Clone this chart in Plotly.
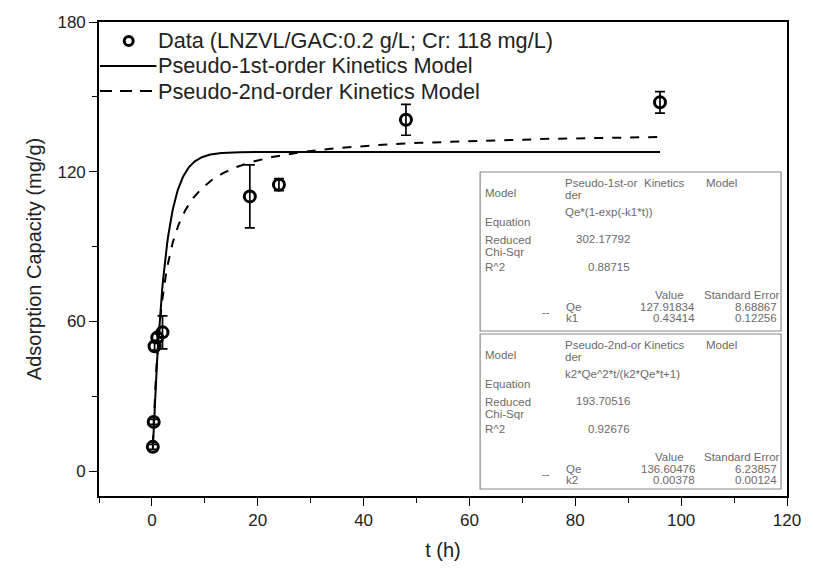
import numpy as np
import plotly.graph_objects as go

# Measured adsorption data
t_h = [1/6, 1/3, 0.5, 1, 2, 18.5, 24, 48, 96]
q_mg_g = [9.7, 19.7, 50.0, 53.5, 55.6, 110.1, 114.8, 140.8, 147.8]
q_err = [1.0, 1.0, 1.5, 1.5, 6.6, 12.6, 2.4, 6.2, 4.3]

# Fitted kinetic parameters
Qe1, k1 = 127.91834, 0.43414
Qe2, k2 = 136.60476, 0.00378

t_fit = np.linspace(t_h[0], t_h[-1], 600)
q_pfo = Qe1 * (1 - np.exp(-k1 * t_fit))
q_pso = k2 * Qe2**2 * t_fit / (1 + k2 * Qe2 * t_fit)

series_names = [
    "Data (LNZVL/GAC:0.2 g/L; Cr: 118 mg/L)",
    "Pseudo-1st-order Kinetics Model",
    "Pseudo-2nd-order Kinetics Model",
]

# Fit report tables
table1 = [
    ["Model", "Pseudo-1st-or\nder", "Kinetics", "Model"],
    ["Equation", "Qe*(1-exp(-k1*t))"],
    ["Reduced\nChi-Sqr", "302.17792"],
    ["R^2", "0.88715"],
    ["Qe", "127.91834", "8.68867"],
    ["k1", "0.43414", "0.12256"],
]
table2 = [
    ["Model", "Pseudo-2nd-or\nder", "Kinetics", "Model"],
    ["Equation", "k2*Qe^2*t/(k2*Qe*t+1)"],
    ["Reduced\nChi-Sqr", "193.70516"],
    ["R^2", "0.92676"],
    ["Qe", "136.60476", "6.23857"],
    ["k2", "0.00378", "0.00124"],
]

FONT = "Liberation Sans, Arial, sans-serif"
W, H = 813, 572
L, R, T, B = 99, 794, 22, 496


def px(x):
    return (x - L) / (R - L)


def py(y):
    return (B - y) / (B - T)


fig = go.Figure()

fig.add_trace(go.Scatter(
    x=t_h, y=q_mg_g, mode="markers", name=series_names[0],
    marker=dict(symbol="circle-open", size=11, color="black",
                line=dict(width=3, color="black")),
    error_y=dict(type="data", array=q_err, visible=True, color="black",
                 thickness=1.7, width=5),
))
fig.add_trace(go.Scatter(
    x=t_fit, y=q_pfo, mode="lines", name=series_names[1],
    line=dict(color="black", width=2),
))
fig.add_trace(go.Scatter(
    x=t_fit, y=q_pso, mode="lines", name=series_names[2],
    line=dict(color="black", width=2, dash="dash"),
))

shapes = []
annotations = []
TXT = "#6a6a6a"

# Legend: symbol samples and labels in the upper-left corner
LEG_ROWS = [41, 66, 91]
for name, yrow in zip(series_names, LEG_ROWS):
    annotations.append(dict(x=px(157), y=py(yrow), xref="paper", yref="paper",
                            text=name, showarrow=False, xanchor="left",
                            yanchor="middle",
                            font=dict(family=FONT, size=21.7, color="#222")))
shapes.append(dict(type="circle", xref="paper", yref="paper",
                   x0=px(124.5), x1=px(133.5), y0=py(LEG_ROWS[0] + 4.5),
                   y1=py(LEG_ROWS[0] - 4.5),
                   line=dict(color="black", width=3)))
shapes.append(dict(type="line", xref="paper", yref="paper",
                   x0=px(100), x1=px(157), y0=py(LEG_ROWS[1]), y1=py(LEG_ROWS[1]),
                   line=dict(color="black", width=2)))
shapes.append(dict(type="line", xref="paper", yref="paper",
                   x0=px(100), x1=px(157), y0=py(LEG_ROWS[2]), y1=py(LEG_ROWS[2]),
                   line=dict(color="black", width=2, dash="12px,8px")))


def add_table(rows, top, bottom):
    shapes.append(dict(type="rect", xref="paper", yref="paper",
                       x0=px(484), x1=px(788), y0=py(bottom), y1=py(top),
                       line=dict(color="#8a8a8a", width=1.2),
                       fillcolor="white", layer="above"))

    def txt(x, y, s, anchor="left"):
        annotations.append(dict(x=px(x), y=py(top + y), xref="paper", yref="paper",
                                text=s, showarrow=False,
                                xanchor=anchor, yanchor="middle", align=anchor,
                                font=dict(family=FONT, size=11.5, color=TXT)))

    m, eq, chi, r2, p1, p2 = rows
    txt(487, 21, m[0])
    txt(568, 11, m[1].split("\n")[0])
    txt(568, 23, m[1].split("\n")[1])
    txt(648, 11, m[2])
    txt(710, 11, m[3])
    txt(487, 50, eq[0])
    txt(568, 40, eq[1])
    txt(487, 68, chi[0].split("\n")[0])
    txt(487, 80, chi[0].split("\n")[1])
    txt(637, 67, chi[1], "right")
    txt(487, 95, r2[0])
    txt(637, 95, r2[1], "right")
    txt(659, 123, "Value")
    txt(708, 123, "Standard Error")
    txt(557, 140, "--", "right")
    txt(569, 135, p1[0])
    txt(703, 135, p1[1], "right")
    txt(786, 135, p1[2], "right")
    txt(569, 146, p2[0])
    txt(703, 146, p2[1], "right")
    txt(786, 146, p2[2], "right")


add_table(table1, 172, 331)
add_table(table2, 334, 489)

axis_common = dict(
    showline=True, linecolor="black", linewidth=1.6, mirror=True,
    ticks="outside", ticklen=8, tickwidth=1.4, tickcolor="black",
    showgrid=False, zeroline=False,
    tickfont=dict(family=FONT, size=17, color="#222"),
)

fig.update_layout(
    width=W, height=H,
    margin=dict(l=L, r=W - R, t=T, b=H - B),
    paper_bgcolor="white", plot_bgcolor="white",
    showlegend=False,
    xaxis=dict(range=[-10, 120], dtick=20, tick0=0,
               minor=dict(ticks="outside", dtick=10, ticklen=5, tickwidth=1.4,
                          tickcolor="black"),
               title=dict(text="t (h)", font=dict(family=FONT, size=20, color="#222"),
                          standoff=14),
               **axis_common),
    yaxis=dict(range=[-10, 180], dtick=60, tick0=0,
               minor=dict(ticks="outside", dtick=30, ticklen=5, tickwidth=1.4,
                          tickcolor="black"),
               title=dict(text="Adsorption Capacity (mg/g)",
                          font=dict(family=FONT, size=20, color="#222"),
                          standoff=10),
               **axis_common),
    shapes=shapes,
    annotations=annotations,
)

fig.write_html("out.html")
